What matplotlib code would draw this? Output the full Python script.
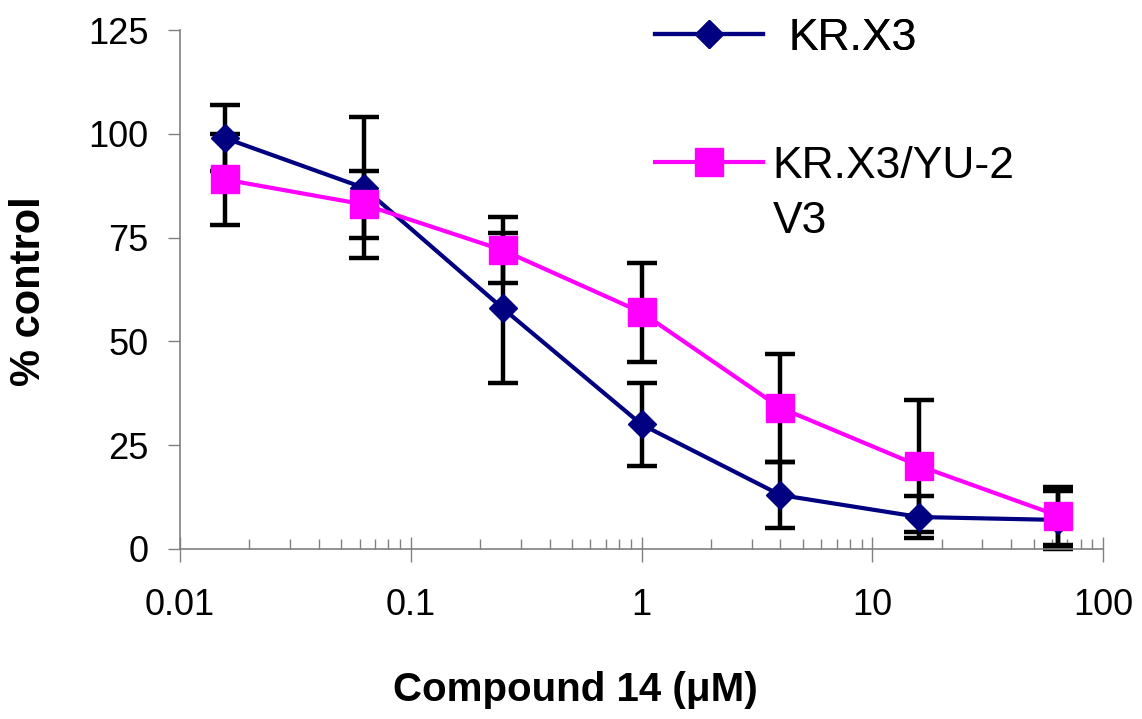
import numpy as np
import matplotlib
matplotlib.use('Agg')
import matplotlib.pyplot as plt
from matplotlib import ticker

plt.rcParams['font.family'] = ['Liberation Sans', 'DejaVu Sans']

# concentrations (uM), 4-fold dilutions
conc = [0.0156, 0.0625, 0.25, 1, 4, 16, 64]

# KR.X3
krx3 = [99, 87, 58, 30, 13, 7.7, 7]
krx3_err = [8, 17, 18, 10, 8, 5, 7]

# KR.X3/YU-2 V3
yu2 = [89, 83, 72, 57, 34, 20, 8]
yu2_err = [11, 8, 8, 12, 13, 16, 7]

yticks = [0, 25, 50, 75, 100, 125]
xticks = [0.01, 0.1, 1, 10, 100]

navy = '#000080'
pink = '#FF00FF'
gray = '#808080'

fig = plt.figure(figsize=(11.42, 7.19), dpi=100)
ax = fig.add_axes([180/1142, 170/719, 923/1142, 519/719])

# error bars under the markers
for y, e in [(krx3, krx3_err), (yu2, yu2_err)]:
    eb = ax.errorbar(conc, y, yerr=e, fmt='none', ecolor='black',
                     elinewidth=3.2, capsize=11, capthick=3.2, zorder=2)
    for a in eb.lines[1] + eb.lines[2]:
        a.set_clip_on(False)

l1, = ax.plot(conc, krx3, color=navy, lw=3, marker='D', ms=14, mew=1,
              mec=navy, mfc=navy, zorder=3, clip_on=False)
l2, = ax.plot(conc, yu2, color=pink, lw=3, marker='s', ms=20, mew=1,
              mec=pink, mfc=pink, zorder=4, clip_on=False)

ax.set_xscale('log')
ax.set_xlim(0.01, 100)
ax.set_ylim(0, 125)
ax.set_yticks(yticks)
ax.xaxis.set_major_locator(ticker.FixedLocator(xticks))
ax.xaxis.set_major_formatter(ticker.FuncFormatter(lambda v, p: f'{v:g}'))
ax.xaxis.set_minor_locator(ticker.LogLocator(base=10, subs=np.arange(2, 10)))
ax.xaxis.set_minor_formatter(ticker.NullFormatter())

for s in ['top', 'right']:
    ax.spines[s].set_visible(False)
for s in ['left', 'bottom']:
    ax.spines[s].set_color(gray)
    ax.spines[s].set_linewidth(1.2)

ax.tick_params(axis='y', direction='out', length=8.6, width=1, color=gray,
               labelsize=26, pad=14)
ax.tick_params(axis='x', which='major', direction='inout', length=18, width=1,
               color=gray, labelsize=26, pad=19)
ax.tick_params(axis='x', which='minor', direction='in', length=7, width=1,
               color=gray)

ax.set_ylabel('% control', fontsize=30, fontweight='bold', va='center')
ax.yaxis.set_label_coords((29 - 180) / 923, 0.497)
ax.set_xlabel('Compound 14 (μM)', fontsize=29, fontweight='bold', va='center')
ax.xaxis.set_label_coords((575 - 180) / 923, (549 - 690) / 519)

# legend entries placed like the original
leg1 = fig.legend([l1], ['KR.X3'], loc='center left',
                  bbox_to_anchor=(655/1142, 1 - 38/719), frameon=False,
                  fontsize=32, handlelength=77.8/32, handletextpad=0.56,
                  borderpad=0, borderaxespad=0)
leg2 = fig.legend([l2], ['KR.X3/YU-2'], loc='center left',
                  bbox_to_anchor=(655/1142, 1 - 166/719), frameon=False,
                  fontsize=32, handlelength=77.8/32, handletextpad=0.21,
                  borderpad=0, borderaxespad=0)
fig.add_artist(leg1)
fig.text(773/1142, 1 - 233/719, 'V3', fontsize=32, ha='left', va='baseline')

fig.savefig('out.png', dpi=100)
